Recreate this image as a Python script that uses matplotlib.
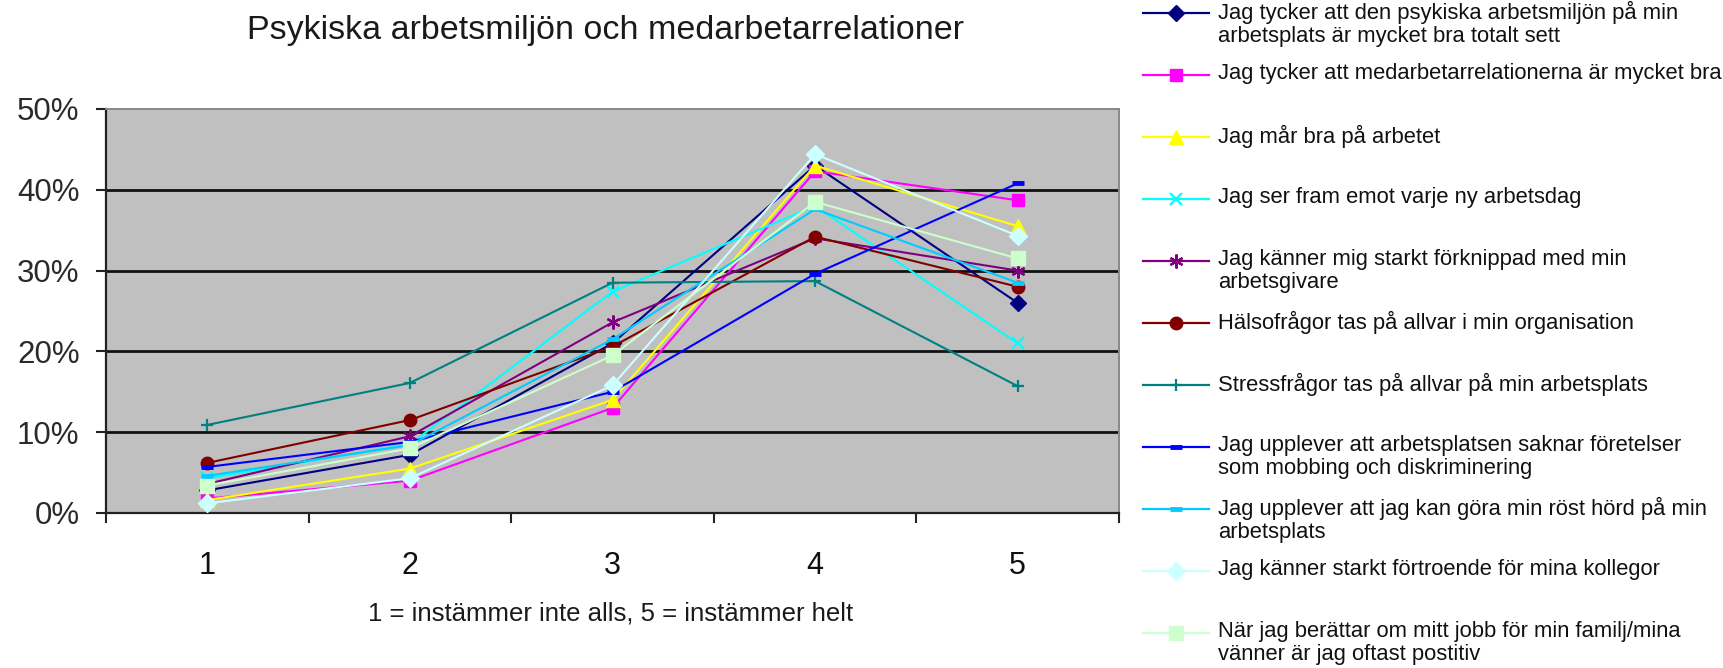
import matplotlib
matplotlib.use("Agg")
import matplotlib.pyplot as plt
from matplotlib.lines import Line2D
from matplotlib.ticker import FixedLocator, FuncFormatter

# Survey answers per statement, share of respondents (%) for scale steps 1..5
categories = [1, 2, 3, 4, 5]
tick_labels = ["1", "2", "3", "4", "5"]

arbetsmiljo = [2.8, 7.2, 21.0, 43.0, 26.0]
medarbetare = [1.8, 4.0, 13.0, 42.3, 38.7]
mar_bra = [1.6, 5.5, 14.0, 43.0, 35.5]
ser_fram = [4.3, 8.5, 27.4, 38.0, 21.0]
forknippad = [3.6, 9.5, 23.6, 34.0, 30.0]
halsofragor = [6.2, 11.5, 20.6, 34.2, 28.0]
stressfragor = [10.9, 16.1, 28.5, 28.7, 15.7]
mobbing = [5.7, 8.8, 15.0, 29.6, 40.8]
rost_hord = [4.6, 8.4, 21.5, 37.6, 28.5]
fortroende = [1.2, 4.3, 15.8, 44.4, 34.3]
positiv = [3.4, 8.0, 19.5, 38.5, 31.5]

labels = [
    "Jag tycker att den psykiska arbetsmiljön på min\narbetsplats är mycket bra totalt sett",
    "Jag tycker att medarbetarrelationerna är mycket bra",
    "Jag mår bra på arbetet",
    "Jag ser fram emot varje ny arbetsdag",
    "Jag känner mig starkt förknippad med min\narbetsgivare",
    "Hälsofrågor tas på allvar i min organisation",
    "Stressfrågor tas på allvar på min arbetsplats",
    "Jag upplever att arbetsplatsen saknar företelser\nsom mobbing och diskriminering",
    "Jag upplever att jag kan göra min röst hörd på min\narbetsplats",
    "Jag känner starkt förtroende för mina kollegor",
    "När jag berättar om mitt jobb för min familj/mina\nvänner är jag oftast postitiv",
]
title = "Psykiska arbetsmiljön och medarbetarrelationer"
xlabel = "1 = instämmer inte alls, 5 = instämmer helt"

series = [arbetsmiljo, medarbetare, mar_bra, ser_fram, forknippad, halsofragor,
          stressfragor, mobbing, rost_hord, fortroende, positiv]

styles = [
    dict(color="#000080", marker="D", ms=8),
    dict(color="#FF00FF", marker="s", ms=9),
    dict(color="#FFFF00", marker="^", ms=10),
    dict(color="#00FFFF", marker="x", ms=9, mew=1.6),
    dict(color="#800080", marker=(6, 2, 0), ms=10, mew=1.6),
    dict(color="#800000", marker="o", ms=9),
    dict(color="#008080", marker="+", ms=9, mew=1.6),
    dict(color="#0000FF", marker="_", ms=9, mew=3.5),
    dict(color="#00CCFF", marker="_", ms=9, mew=3.5),
    dict(color="#CCFFFF", marker="D", ms=9),
    dict(color="#CCFFCC", marker="s", ms=10),
]

W, H = 1724, 668
fig = plt.figure(figsize=(W / 100, H / 100), dpi=100)
fig.patch.set_facecolor("white")
plt.rcParams["font.family"] = ["Liberation Sans", "DejaVu Sans"]


def fx(px):
    return px / W


def fy(py):
    return 1 - py / H


# plot area
left, right, top, bottom = 106, 1119, 109, 513
ax = fig.add_axes([fx(left), fy(bottom), fx(right - left), (bottom - top) / H])
ax.set_facecolor("#C0C0C0")
ax.set_xlim(0.5, 5.5)
ax.set_ylim(0, 50)

for vals, st in zip(series, styles):
    ax.plot(categories, vals, color=st["color"], lw=1.5, marker=st["marker"],
            markersize=st["ms"], markeredgewidth=st.get("mew", 1.0),
            markerfacecolor=st["color"], markeredgecolor=st["color"],
            zorder=3)

# horizontal gridlines
ax.yaxis.set_major_locator(FixedLocator([0, 10, 20, 30, 40, 50]))
ax.yaxis.set_major_formatter(FuncFormatter(lambda v, p: f"{int(v)}%"))
for g in [10, 20, 30, 40]:
    ax.axhline(g, color="#111111", lw=2.0, zorder=1)

ax.set_xticks(categories)
ax.set_xticklabels(tick_labels)
ax.set_xticks([0.5, 1.5, 2.5, 3.5, 4.5, 5.5], minor=True)
ax.tick_params(axis="x", which="major", length=0, pad=27, labelsize=22,
               labelcolor="#111111")
ax.tick_params(axis="x", which="minor", length=7, width=1.5, color="#222222",
               direction="out")
ax.tick_params(axis="y", which="major", length=7, width=1.5, color="#222222",
               direction="out", pad=12, labelsize=22.5, labelcolor="#2a2a2a")

for side in ["left", "bottom"]:
    ax.spines[side].set_color("#222222")
    ax.spines[side].set_linewidth(1.6)
for side in ["top", "right"]:
    ax.spines[side].set_color("#888888")
    ax.spines[side].set_linewidth(1.4)

fig.text(fx(606), fy(31), title, ha="center", va="center", fontsize=24.5,
         color="#1a1a1a")
fig.text(fx(611), fy(613), xlabel, ha="center", va="center", fontsize=18.5,
         color="#1a1a1a")

# legend keys and texts
leg_x0, leg_x1, text_x = 1143, 1209, 1218
y0, pitch = 13, 62
for i, (lab, st) in enumerate(zip(labels, styles)):
    yk = y0 + pitch * i
    fig.add_artist(Line2D([fx(leg_x0), fx(leg_x1)], [fy(yk), fy(yk)],
                          transform=fig.transFigure, color=st["color"], lw=1.6))
    fig.add_artist(Line2D([fx((leg_x0 + leg_x1) / 2)], [fy(yk)],
                          transform=fig.transFigure, color=st["color"],
                          marker=st["marker"], markersize=st["ms"],
                          markeredgewidth=st.get("mew", 1.0),
                          markerfacecolor=st["color"],
                          markeredgecolor=st["color"], lw=0))
    fig.text(fx(text_x), fy(yk - 12), lab, ha="left", va="top", fontsize=15.8,
             color="#111111", linespacing=1.12)

fig.savefig("out.png", dpi=100, facecolor="white")
